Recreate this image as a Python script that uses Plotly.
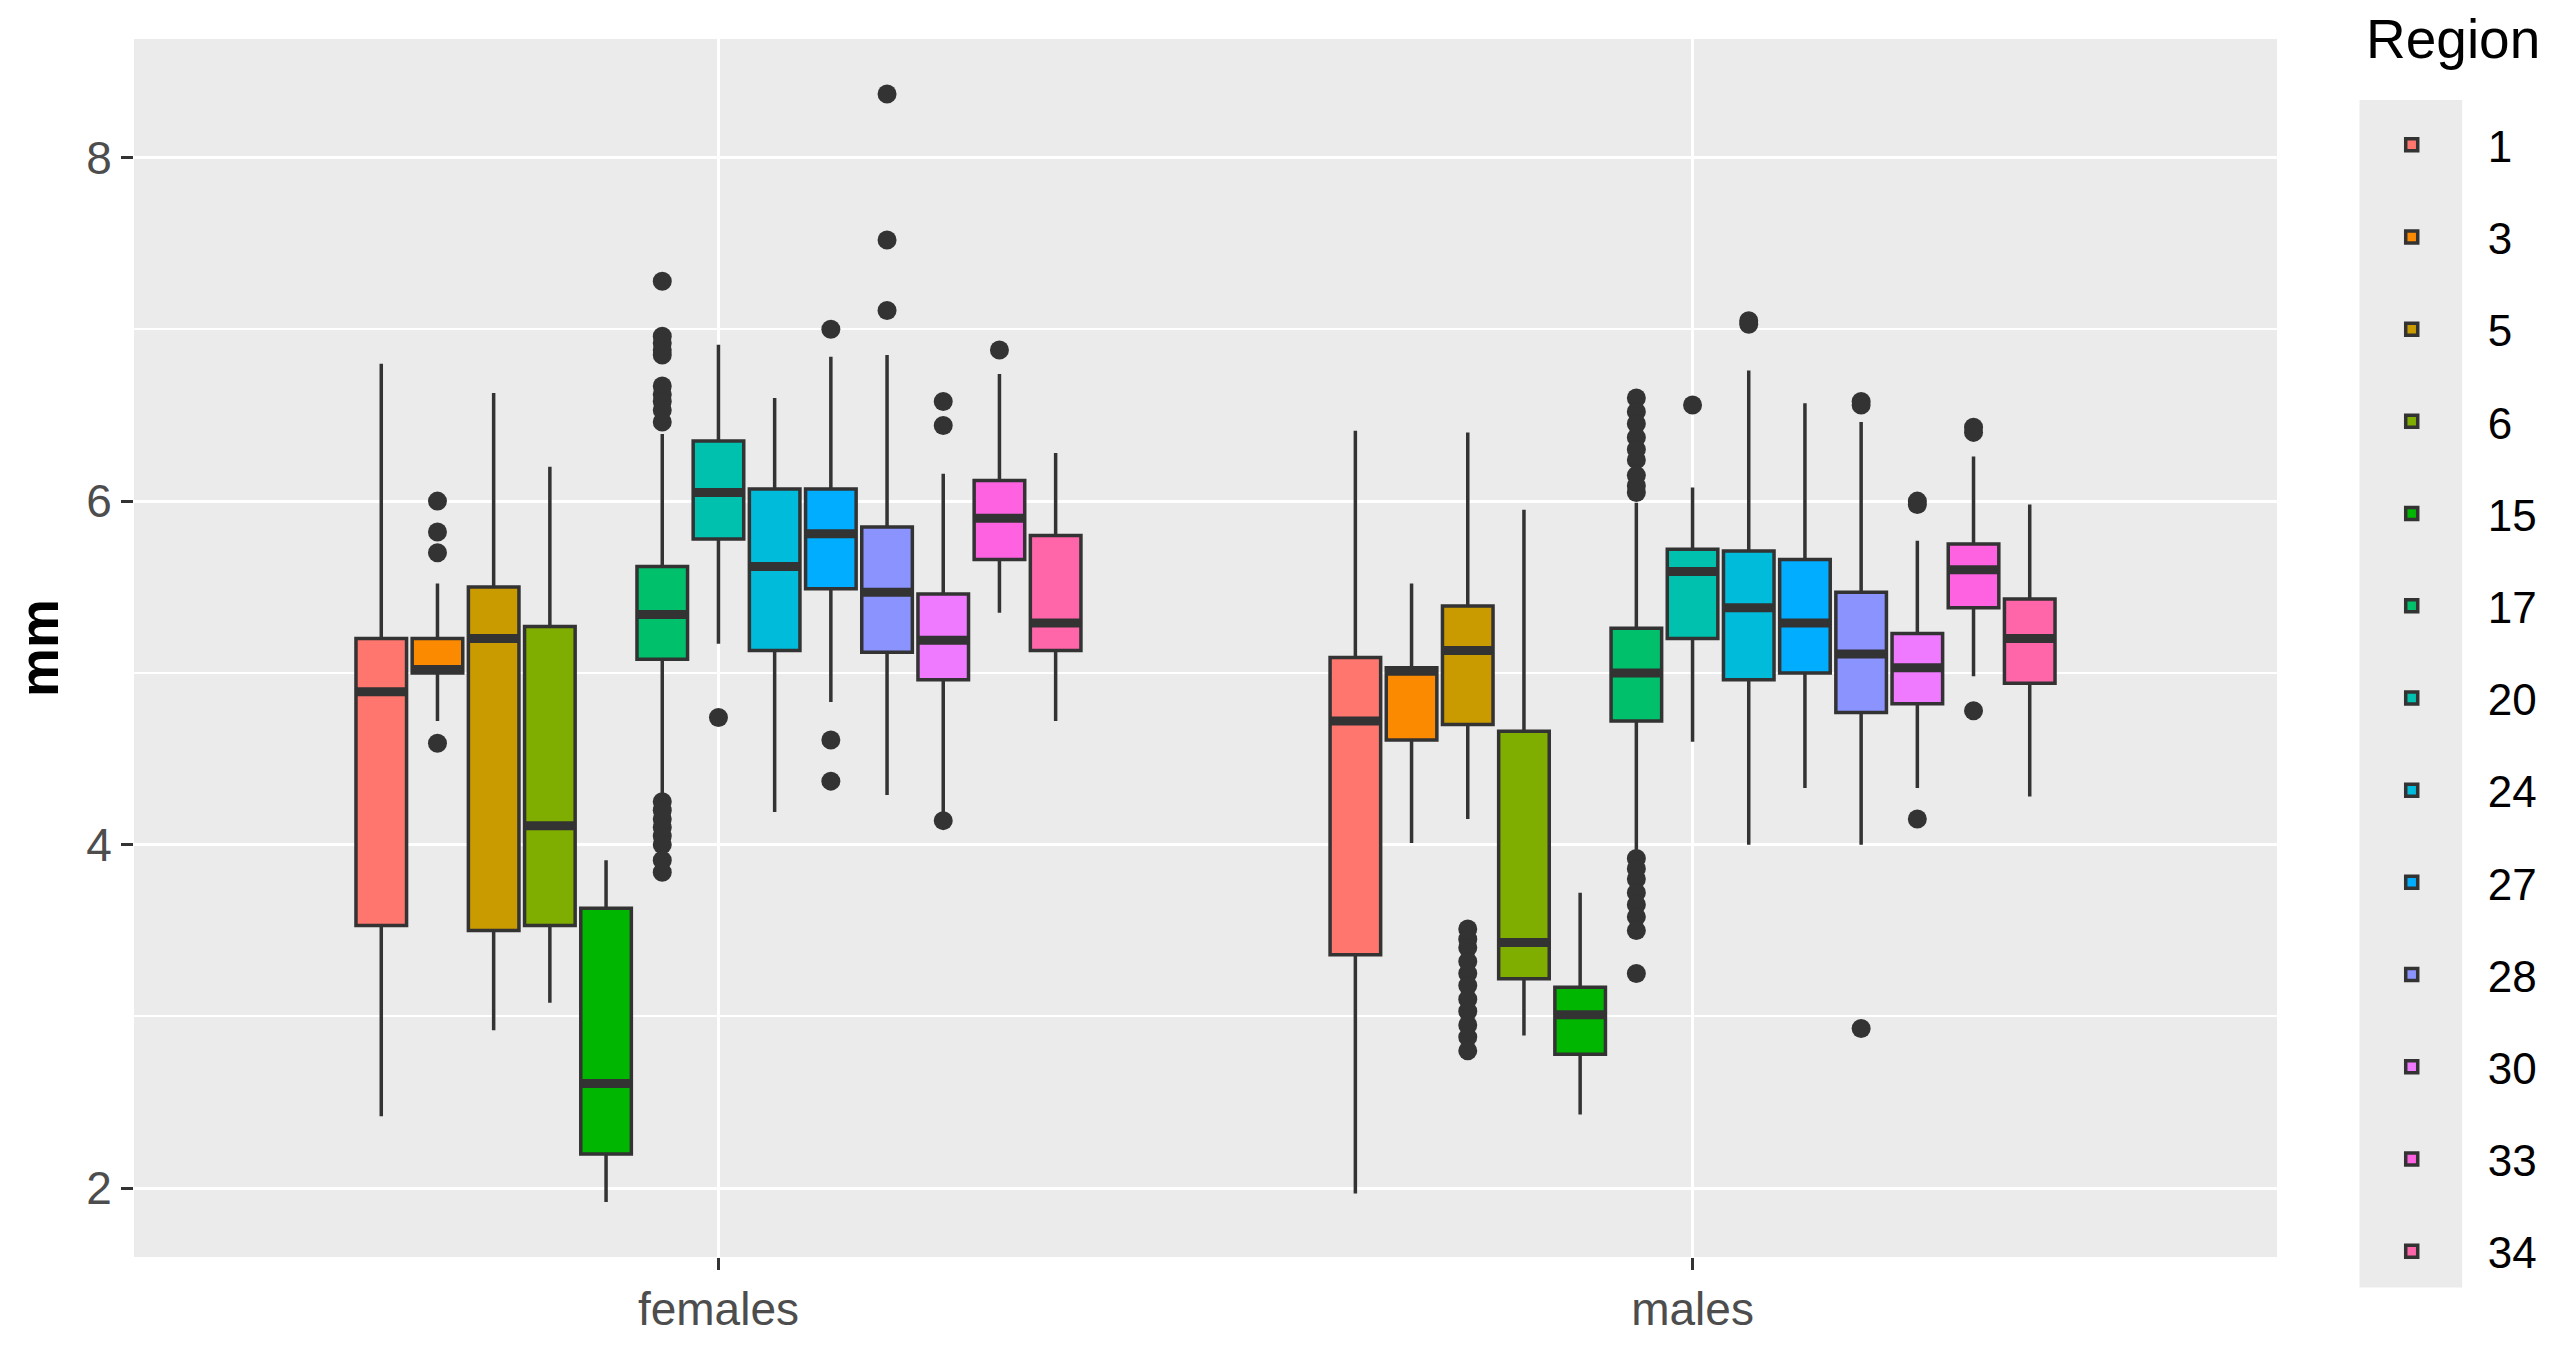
import plotly.graph_objects as go
import numpy as np

sexes = ["females", "males"]
regions = ["1", "3", "5", "6", "15", "17", "20", "24", "27", "28", "30", "33", "34"]
colors = ["#FF766F", "#FB8A00", "#CA9B00", "#7FAD00", "#00B600", "#00C06B", "#00C0AE",
          "#00BBDA", "#00ADFF", "#8B93FF", "#F07AFF", "#FF62E0", "#FF66AA"]

# per region: [females, males]
lower = [[2.42, 1.97], [4.72, 4.01], [2.92, 4.15], [3.08, 2.89], [1.92, 2.43], [4.28, 3.97], [5.17, 4.60],
         [4.19, 4.00], [4.83, 4.33], [4.29, 4.00], [4.16, 4.33], [5.35, 4.98], [4.72, 4.28]]
q1 = [[3.53, 3.36], [5.00, 4.61], [3.50, 4.70], [3.53, 3.22], [2.20, 2.78], [5.08, 4.72], [5.78, 5.20],
      [5.13, 4.96], [5.49, 5.00], [5.12, 4.77], [4.96, 4.82], [5.66, 5.38], [5.13, 4.94]]
median = [[4.89, 4.72], [5.02, 5.01], [5.20, 5.13], [4.11, 3.43], [2.61, 3.01], [5.34, 5.00], [6.05, 5.59],
          [5.62, 5.38], [5.81, 5.29], [5.47, 5.11], [5.19, 5.03], [5.90, 5.60], [5.29, 5.20]]
q3 = [[5.20, 5.09], [5.20, 5.03], [5.50, 5.39], [5.27, 4.66], [3.63, 3.17], [5.62, 5.26], [6.35, 5.72],
      [6.07, 5.71], [6.07, 5.66], [5.85, 5.47], [5.46, 5.23], [6.12, 5.75], [5.80, 5.43]]
upper = [[6.80, 6.41], [5.52, 5.52], [6.63, 6.40], [6.20, 5.95], [3.91, 3.72], [6.39, 5.99], [6.91, 6.08],
         [6.60, 6.76], [6.84, 6.57], [6.85, 6.46], [6.16, 5.77], [6.74, 6.26], [6.28, 5.98]]

outliers_f = [[], [6.00, 5.82, 5.70, 4.59], [], [], [],
              [7.28, 6.96, 6.92, 6.88, 6.85, 6.67, 6.62, 6.58, 6.53, 6.46,
               4.25, 4.20, 4.15, 4.10, 4.05, 4.00, 3.91, 3.84],
              [4.74], [], [7.00, 4.61, 4.37], [8.37, 7.52, 7.11], [6.58, 6.44, 4.14], [6.88], []]
outliers_m = [[], [], [3.51, 3.45, 3.40, 3.32, 3.25, 3.18, 3.10, 3.03, 2.95, 2.88, 2.80], [], [],
              [6.60, 6.52, 6.45, 6.37, 6.30, 6.24, 6.15, 6.09, 6.05,
               3.92, 3.86, 3.80, 3.72, 3.65, 3.58, 3.50, 3.25],
              [6.56], [7.05, 7.03], [], [6.58, 6.56, 2.93], [6.00, 5.98, 4.15], [6.43, 6.40, 4.78], []]

# dodge like ggplot: 0.75 of each category split into 13 slots
slot = 0.75 / len(regions)
boxw = slot * 0.9
base = np.arange(1, len(sexes) + 1)

fig = go.Figure()
for i, r in enumerate(regions):
    xs = base + (i - (len(regions) - 1) / 2) * slot
    fig.add_trace(go.Box(
        x=xs, q1=q1[i], median=median[i], q3=q3[i], lowerfence=lower[i], upperfence=upper[i],
        name=r, legendgroup=r, width=boxw, whiskerwidth=0, boxpoints=False,
        fillcolor=colors[i], line=dict(color="#333333", width=3.5),
    ))

# thicker median bars, as ggplot does
for i, r in enumerate(regions):
    xs = base + (i - (len(regions) - 1) / 2) * slot
    mx, my = [], []
    for j in range(len(sexes)):
        mx += [xs[j] - boxw / 2, xs[j] + boxw / 2, None]
        my += [median[i][j], median[i][j], None]
    fig.add_trace(go.Scatter(x=mx, y=my, mode="lines", line=dict(color="#333333", width=9),
                             showlegend=False, hoverinfo="skip", legendgroup=r))

for i, r in enumerate(regions):
    xs = base + (i - (len(regions) - 1) / 2) * slot
    ox = [xs[0]] * len(outliers_f[i]) + [xs[1]] * len(outliers_m[i])
    oy = outliers_f[i] + outliers_m[i]
    if oy:
        fig.add_trace(go.Scatter(x=ox, y=oy, mode="markers", marker=dict(color="#333333", size=19),
                                 showlegend=False, legendgroup=r))

fig.update_layout(
    width=2547, height=1339,
    margin=dict(l=115, r=278, t=31, b=85),
    plot_bgcolor="#EBEBEB", paper_bgcolor="white",
    font=dict(family="Liberation Sans, Arial", size=46, color="#4D4D4D"),
    boxmode="overlay",
    legend=dict(
        font=dict(size=44, color="black"),
        x=1.0274, xanchor="left",
        y=0.942, yanchor="top", maxheight=1300,
        itemwidth=142, tracegroupgap=32, bgcolor="rgba(0,0,0,0)",
    ),
    annotations=[dict(text="Region", xref="paper", yref="paper", x=1.0404, y=1.0,
                      xanchor="left", yanchor="middle", showarrow=False,
                      font=dict(size=55, color="black"))],
    shapes=[dict(type="rect", xref="paper", yref="paper", x0=1.0385, x1=1.0864, y0=-0.025, y1=0.95,
                 fillcolor="#EBEBEB", line=dict(width=0), layer="below")],
)
fig.update_xaxes(range=[0.4, 2.6], tickvals=base, ticktext=sexes, showgrid=True, gridcolor="white",
                 gridwidth=3, zeroline=False, ticks="outside", ticklen=12, tickwidth=3, tickcolor="#333333",
                 tickfont=dict(size=46, color="#4D4D4D"))
fig.update_yaxes(range=[1.60, 8.69], dtick=2, tick0=0, showgrid=True, gridcolor="white", gridwidth=3,
                 minor=dict(dtick=1, showgrid=True, gridcolor="white", gridwidth=1.5),
                 zeroline=False, ticks="outside", ticklen=12, tickwidth=3, tickcolor="#333333",
                 tickfont=dict(size=46, color="#4D4D4D"),
                 title=dict(text="<b>mm</b>", font=dict(size=55, color="black"), standoff=28))

fig.write_html("out.html")
